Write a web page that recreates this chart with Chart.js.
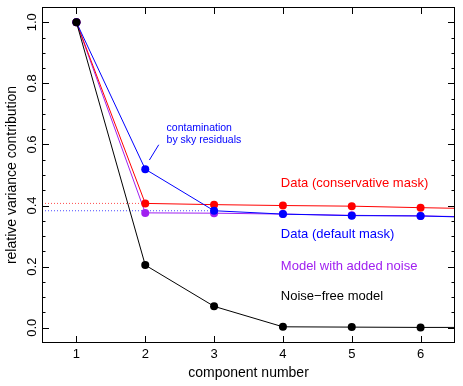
<!DOCTYPE html>
<html>
<head>
<meta charset="utf-8">
<script src="https://cdn.jsdelivr.net/npm/chart.js@4.4.1/dist/chart.umd.min.js"></script>
<style>
  html, body { margin: 0; padding: 0; background: #fff; }
  #wrap { width: 463px; height: 386px; }
</style>
</head>
<body>
<div id="wrap"><canvas id="chart" width="463" height="386"></canvas></div>
<script>
// component 7 only carries the lines out to the right edge
const components = [1, 2, 3, 4, 5, 6, 7];
const noiseFree        = [1.0, 0.205, 0.070, 0.003, 0.002, 0.001, 0.001];
const defaultMask      = [1.0, 0.519, 0.383, 0.372, 0.367, 0.366, 0.360];
const conservativeMask = [1.0, 0.407, 0.403, 0.400, 0.398, 0.393, 0.389];
const modelNoise       = [1.0, 0.376, 0.375, 0.372, 0.368, 0.366, 0.362];

const xTicks = [1, 2, 3, 4, 5, 6];
const yTicks = [0.0, 0.2, 0.4, 0.6, 0.8, 1.0];

const seriesLabels = ['Data (conservative mask)', 'Data (default mask)', 'Model with added noise', 'Noise\u2212free model'];
const labelX = 3.97;
const labelY = [0.471, 0.304, 0.202, 0.102];

const noteLines = ['contamination', 'by sky residuals'];
const noteX = 2.31;
const noteY = [0.652, 0.613];
const notePointer = [[2.06, 0.549], [2.196, 0.599]];

const RED = '#ff0000', BLUE = '#0000ff', PURPLE = '#a020f0', BLACK = '#000000';
const FONT = '"Liberation Sans", Arial, Helvetica, sans-serif';

function pts(vals) {
    return vals.map((v, i) => ({x: components[i], y: v}));
}
const radii = components.map(c => c <= 6 ? 4 : 0);

function series(vals, color) {
    return {
        data: pts(vals), borderColor: color, backgroundColor: color,
        borderWidth: 1, pointRadius: radii, pointBorderWidth: 0, tension: 0
    };
}

function dotted(yVal, xEnd, color) {
    return {
        data: [{x: 0.5, y: yVal}, {x: xEnd, y: yVal}], borderColor: color,
        borderWidth: 1, borderDash: [1, 2], pointRadius: 0
    };
}

const decorations = {
    id: 'decorations',
    afterDraw(chart) {
        const {ctx, chartArea: a, scales: {x, y}} = chart;
        ctx.save();
        ctx.strokeStyle = BLACK;
        ctx.lineWidth = 1;
        ctx.strokeRect(a.left + 0.5, a.top + 0.5, a.right - a.left - 1, a.bottom - a.top - 1);

        ctx.beginPath();
        xTicks.forEach(t => {
            const px = Math.round(x.getPixelForValue(t)) + 0.5;
            ctx.moveTo(px, a.bottom); ctx.lineTo(px, a.bottom - 7);
            ctx.moveTo(px, a.top); ctx.lineTo(px, a.top + 7);
        });
        for (let k = 0; k <= 20; k++) {
            const v = k * 0.05;
            const len = (k % 4 === 0) ? 7 : 3.5;
            const py = Math.round(y.getPixelForValue(v)) + 0.5;
            ctx.moveTo(a.left, py); ctx.lineTo(a.left + len, py);
            ctx.moveTo(a.right, py); ctx.lineTo(a.right - len, py);
        }
        ctx.stroke();

        // rotated y tick labels
        ctx.fillStyle = BLACK;
        ctx.font = '13px ' + FONT;
        ctx.textAlign = 'center';
        ctx.textBaseline = 'middle';
        yTicks.forEach(t => {
            ctx.save();
            ctx.translate(32.5, y.getPixelForValue(t));
            ctx.rotate(-Math.PI / 2);
            ctx.fillText(t.toFixed(1), 0, 0);
            ctx.restore();
        });

        // series labels
        const colors = [RED, BLUE, PURPLE, BLACK];
        ctx.textAlign = 'left';
        seriesLabels.forEach((s, i) => {
            ctx.fillStyle = colors[i];
            ctx.fillText(s, x.getPixelForValue(labelX), y.getPixelForValue(labelY[i]));
        });

        // annotation
        ctx.fillStyle = BLUE;
        ctx.strokeStyle = BLUE;
        ctx.font = '10.5px ' + FONT;
        noteLines.forEach((s, i) => {
            ctx.fillText(s, x.getPixelForValue(noteX), y.getPixelForValue(noteY[i]));
        });
        ctx.beginPath();
        ctx.moveTo(x.getPixelForValue(notePointer[0][0]), y.getPixelForValue(notePointer[0][1]));
        ctx.lineTo(x.getPixelForValue(notePointer[1][0]), y.getPixelForValue(notePointer[1][1]));
        ctx.stroke();
        ctx.restore();
    }
};

new Chart(document.getElementById('chart').getContext('2d'), {
    type: 'line',
    data: {
        datasets: [
            series(noiseFree, BLACK),
            series(defaultMask, BLUE),
            series(conservativeMask, RED),
            series(modelNoise, PURPLE),
            dotted(conservativeMask[1], 2, 'rgba(255,0,0,0.7)'),
            dotted(defaultMask[2], 3, 'rgba(0,0,255,0.7)')
        ]
    },
    options: {
        responsive: false,
        animation: false,
        devicePixelRatio: 1,
        layout: {padding: {top: 7, right: 8, left: 0, bottom: 0}},
        plugins: {legend: {display: false}, tooltip: {enabled: false}},
        scales: {
            x: {
                type: 'linear', min: 0.5, max: 6.5,
                grid: {display: false, drawTicks: false},
                border: {display: false},
                afterBuildTicks: s => { s.ticks = xTicks.map(v => ({value: v})); },
                ticks: {color: BLACK, font: {family: FONT, size: 13}, padding: 4, maxRotation: 0},
                title: {display: true, text: 'component number', color: BLACK,
                        font: {family: FONT, size: 14}, padding: {top: 0, bottom: 4.6}},
                afterFit: s => { s.height = 43; }
            },
            y: {
                type: 'linear', min: -0.05, max: 1.05,
                grid: {display: false, drawTicks: false},
                border: {display: false},
                ticks: {display: false},
                title: {display: true, text: 'relative variance contribution', color: BLACK,
                        font: {family: FONT, size: 14}, padding: {top: 3.6, bottom: 0}},
                afterFit: s => { s.width = 42; }
            }
        }
    },
    plugins: [decorations]
});
</script>
</body>
</html>
